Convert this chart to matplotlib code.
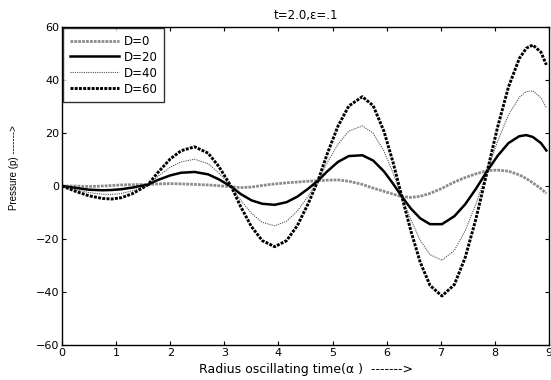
import numpy as np
import matplotlib
matplotlib.use('Agg')
import matplotlib.pyplot as plt

plt.rcParams['font.family'] = ['DejaVu Sans']

alpha = [0, 0.25, 0.5, 0.75, 0.92, 1.1, 1.3, 1.5, 1.59, 1.75, 2.0, 2.2,
         2.45, 2.7, 2.9, 3.13, 3.3, 3.5, 3.7, 3.93, 4.15, 4.35, 4.55, 4.73,
         4.9, 5.1, 5.3, 5.55, 5.75, 5.95, 6.12, 6.28, 6.45, 6.62, 6.8, 7.02,
         7.25, 7.45, 7.65, 7.86, 8.05, 8.25, 8.45, 8.58, 8.7, 8.85, 8.95]

p_d0 = [0, 0, -0.2, 0.0, 0.2, 0.4, 0.5, 0.6, 0.5, 0.8, 0.9, 0.8,
        0.6, 0.4, 0.1, -0.3, -0.6, -0.4, 0.2, 0.8, 1.2, 1.5, 1.8, 2.0,
        2.2, 2.3, 1.8, 0.6, -0.8, -2.0, -3.1, -4.0, -4.3, -3.9, -2.8, -0.9,
        1.5, 3.2, 4.6, 5.8, 6.0, 5.6, 4.2, 2.8, 1.2, -1.0, -2.8]

p_d20 = [0, -0.7, -1.4, -1.6, -1.5, -1.2, -0.6, 0.2, 0.5, 2.1, 4.0, 5.0,
         5.3, 4.4, 2.5, -0.3, -3.0, -5.4, -6.7, -7.1, -6.1, -4.0, -1.0, 2.0,
         5.5, 9.1, 11.3, 11.6, 9.6, 5.5, 0.8, -4.0, -8.6, -12.2, -14.4, -14.4,
         -11.4, -6.9, -1.0, 5.8, 11.4, 16.2, 18.8, 19.2, 18.5, 16.2, 13.4]

p_d40 = [0, -1.3, -2.5, -3.1, -3.2, -2.8, -1.8, -0.2, 0.5, 3.3, 7.1, 9.1,
         10.1, 8.4, 4.9, -0.3, -5.3, -10.3, -13.7, -15.0, -13.3, -9.4, -3.8, 2.0,
         8.8, 15.8, 20.7, 22.7, 19.9, 13.1, 4.8, -4.0, -12.9, -20.5, -25.9, -28.0,
         -24.3, -16.9, -6.7, 5.8, 16.9, 26.8, 33.5, 35.6, 35.9, 33.3, 29.5]

p_d60 = [0, -2.0, -3.7, -4.7, -4.9, -4.4, -2.9, -0.6, 0.5, 4.6, 10.2, 13.3,
         14.8, 12.4, 7.3, -0.3, -7.7, -15.3, -20.6, -22.9, -20.6, -14.9, -6.6, 2.0,
         12.1, 22.6, 30.2, 33.7, 30.3, 20.6, 8.7, -4.0, -17.2, -28.8, -37.5, -41.5,
         -37.2, -27.0, -12.3, 5.8, 22.3, 37.4, 48.1, 52.0, 53.2, 50.5, 45.7]

fig = plt.figure(figsize=(5.51, 3.80), dpi=100)
ax = fig.add_axes([0.1125, 0.092, 0.884, 0.837])

ax.plot(alpha, p_d0, color='#8c8c8c', lw=2.0, ls=(0, (1, 0.4)), label='D=0')
ax.plot(alpha, p_d20, color='black', lw=1.8, label='D=20')
ax.plot(alpha, p_d40, color='#555555', lw=0.8, ls=(0, (1, 1)), label='D=40')
ax.plot(alpha, p_d60, color='black', lw=2.1, ls=(0, (1, 0.45)), label='D=60')

ax.set_xlim(0, 9)
ax.set_ylim(-60, 60)
ax.set_xticks(range(0, 10))
ax.set_yticks(range(-60, 61, 20))
ax.tick_params(direction='in', top=True, right=True, labelsize=8, length=3, pad=2)
for s in ax.spines.values():
    s.set_linewidth(1.0)

ax.set_title('t=2.0,ε=.1', fontsize=8.5, pad=6)
ax.set_xlabel('Radius oscillating time(α )  ------->', fontsize=9)
ax.xaxis.set_label_coords(0.5, -0.055)
ax.set_ylabel('Pressure (p) ------->', fontsize=7,
              family=['Liberation Sans', 'DejaVu Sans'])
ax.yaxis.set_label_coords(-0.088, 0.557)

leg = ax.legend(loc='upper left', fontsize=8.5, frameon=True, fancybox=False,
                edgecolor='black', borderaxespad=0.1, handlelength=4.2,
                handletextpad=0.4, labelspacing=0.25, borderpad=0.55)
leg.get_frame().set_linewidth(1.0)

fig.savefig('out.png', dpi=100)
